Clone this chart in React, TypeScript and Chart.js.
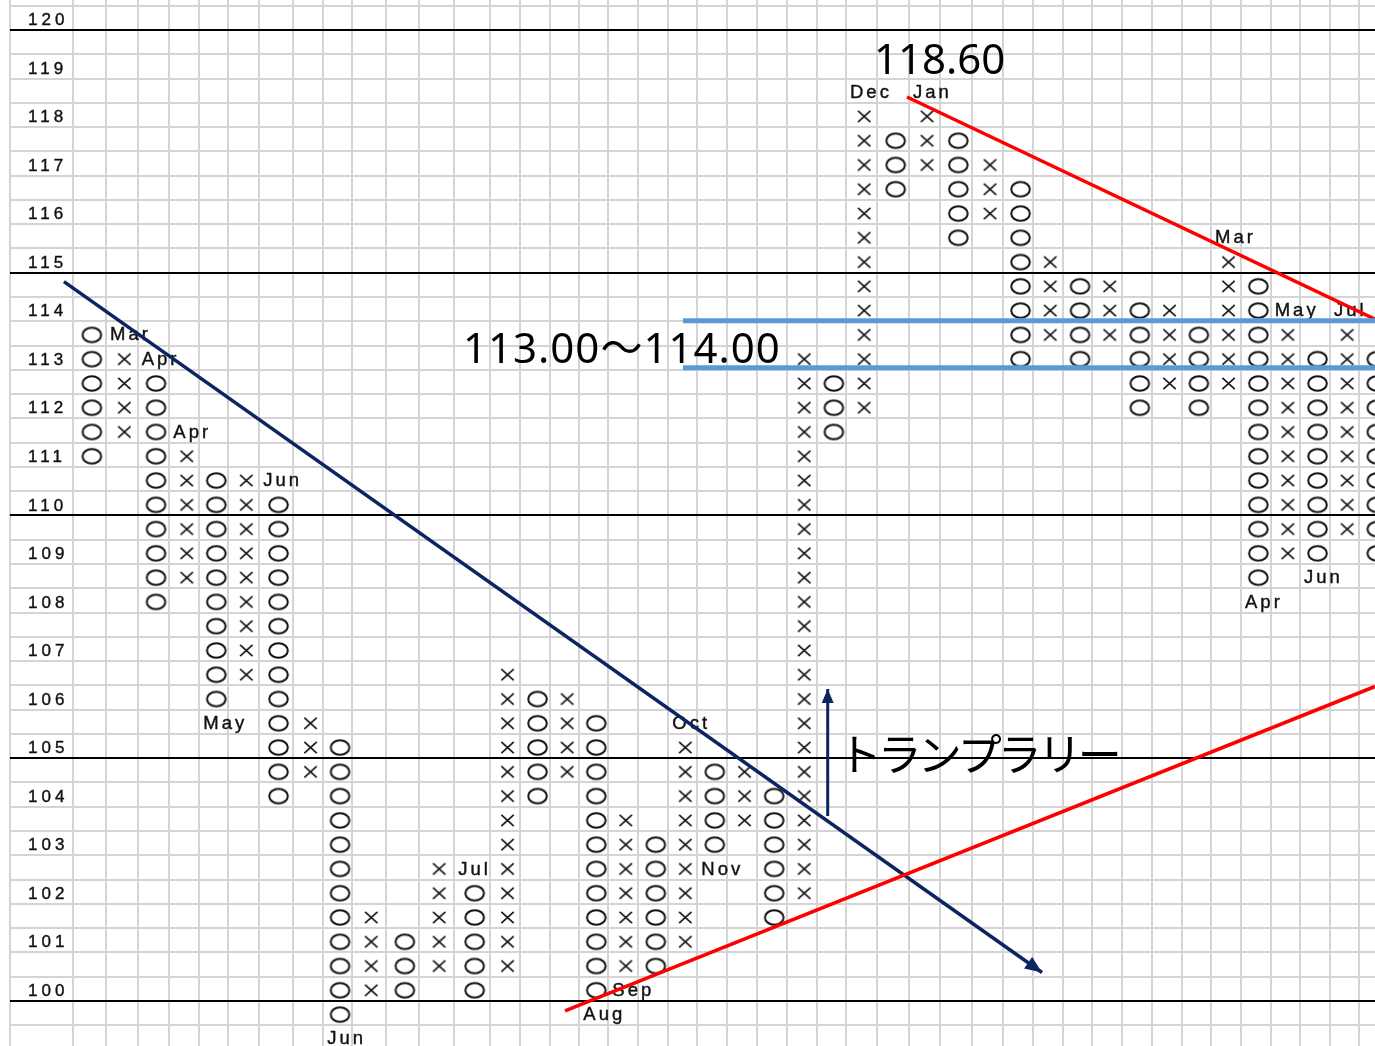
import React, { useEffect, useRef } from 'react';
import { Chart, registerables, LinearScale } from 'chart.js';

// ---------------- data ----------------
const COLUMN_KIND = ['O','X','O','X','O','X','O','X','O','X','O','X','O','X','O','X','O','X','O','X','O','X','O','X','O','X','O','X','O','X','O','X','O','X','O','X','O','X','O','X','O','X','O'];
const COLUMN_LOW = [111,111.5,108,108.5,106,106.5,104,104.5,99.5,100,100,100.5,100,100.5,104,104.5,100,100.5,100.5,101,103,103.5,101.5,102,111.5,112,116.5,117,115.5,116,113,113.5,113,113.5,112,112.5,112,112.5,108.5,109,109,109.5,109];
const COLUMN_HIGH = [113.5,113,112.5,111,110.5,110.5,110,105.5,105,101.5,101,102.5,102,106.5,106,106,105.5,103.5,103,105,104.5,104.5,104,113,112.5,118,117.5,118,117.5,117,116.5,115,114.5,114.5,114,114,113.5,115,114.5,113.5,113,113.5,113];

const MONTH_TEXT = ['Mar','Apr','Apr','Jun','May','Jun','Jul','Aug','Sep','Oct','Nov','Dec','Jan','Mar','May','Jul','Apr','Jun'];
const MONTH_COLUMN = [1,2,3,6,4,8,12,16,17,19,20,25,27,37,39,41,38,40];
const MONTH_PRICE = [113.5,113,111.5,110.5,105.5,99,102.5,99.5,100,105.5,102.5,118.5,118.5,115.5,114,114,108,108.5];

const PRICE_LABELS = [120,119,118,117,116,115,114,113,112,111,110,109,108,107,106,105,104,103,102,101,100];

const DOWN_TREND_X = [-0.14, 31.31];
const DOWN_TREND_Y = [114.565, 100.336];
const RALLY_ARROW_X = [24.375, 24.375];
const RALLY_ARROW_Y = [103.56, 106.175];
const RED_UPPER_X = [26.937, 42.523];
const RED_UPPER_Y = [118.369, 113.794];
const RED_LOWER_X = [15.512, 42.523];
const RED_LOWER_Y = [99.543, 106.227];
const BAND_X = [19.507, 42.523];
const BAND_TOP = 113.76;
const BAND_BOTTOM = 112.79;

const NOTE_TEXT = ['118.60', '113.00〜114.00', 'トランプラリー'];
const NOTE_X = [25.895, 12.244, 24.72];
const NOTE_Y = [118.843, 112.89, 104.486];

// ---------------- layout (column widths of the sheet, relative) ----------------
const COLUMN_WIDTHS = [62.7,33.3,31.7,31.6,30,29,31,33.4,30.6,28.4,34,33.3,35.3,35.7,30,30,29.3,29,30,30,29,30,29.4,30,30,29.3,31.3,31.7,31,31.7,31.6,29.4,30,29.6,30,30,29.4,29.3,30,29.7,29.3,30,29.3,30];

class ColumnScale extends LinearScale {
  static id = 'column';
  static defaults = LinearScale.defaults;
  edgeAt(v: number): number {
    let acc = 0;
    let start = -1;
    for (let i = 0; i < COLUMN_WIDTHS.length; i++) {
      const w = COLUMN_WIDTHS[i];
      if (v <= start + 1 || i === COLUMN_WIDTHS.length - 1) return acc + (v - start) * w;
      acc += w;
      start += 1;
    }
    return acc;
  }
  getPixelForValue(value: number) {
    const a = this.edgeAt((this as any).min);
    const b = this.edgeAt((this as any).max);
    return (this as any).left + ((this.edgeAt(value) - a) / (b - a)) * (this as any).width;
  }
  getValueForPixel(pixel: number) {
    const a = this.edgeAt((this as any).min);
    const b = this.edgeAt((this as any).max);
    const target = a + ((pixel - (this as any).left) / (this as any).width) * (b - a);
    let lo = (this as any).min - 5;
    let hi = (this as any).max + 5;
    for (let k = 0; k < 60; k++) {
      const mid = (lo + hi) / 2;
      if (this.edgeAt(mid) < target) lo = mid; else hi = mid;
    }
    return (lo + hi) / 2;
  }
}

Chart.register(...registerables, ColumnScale as any);

function makeO(): HTMLCanvasElement {
  const c = document.createElement('canvas');
  c.width = 30; c.height = 24;
  const g = c.getContext('2d')!;
  g.strokeStyle = '#111';
  g.lineWidth = 2;
  g.beginPath();
  g.ellipse(15 + 2.5, 12 + 1.5, 9.3, 7.2, 0, 0, Math.PI * 2);
  g.stroke();
  return c;
}

function makeX(): HTMLCanvasElement {
  const c = document.createElement('canvas');
  c.width = 26; c.height = 24;
  const g = c.getContext('2d')!;
  g.strokeStyle = '#111';
  g.lineWidth = 1.6;
  const cx = 13 + 2.5, cy = 12 + 1.5, hx = 6.2, hy = 5.6;
  g.beginPath();
  g.moveTo(cx - hx, cy - hy); g.lineTo(cx + hx, cy + hy);
  g.moveTo(cx + hx, cy - hy); g.lineTo(cx - hx, cy + hy);
  g.stroke();
  return c;
}

function boxes(kind: string) {
  const pts: { x: number; y: number }[] = [];
  COLUMN_KIND.forEach((k, c) => {
    if (k !== kind) return;
    for (let v = COLUMN_LOW[c]; v <= COLUMN_HIGH[c] + 1e-9; v += 0.5) pts.push({ x: c + 0.5, y: v });
  });
  return pts;
}

function pairs(xs: number[], ys: number[]) {
  return xs.map((x, i) => ({ x, y: ys[i] }));
}

function boldText(ctx: any, t: string, px: number, py: number) {
  ctx.fillText(t, px, py);
  ctx.strokeText(t, px, py);
}

const textPlugin = {
  id: 'pfText',
  beforeDatasetsDraw(chart: any) {
    const { ctx, scales } = chart;
    const x = scales.x, y = scales.y;
    ctx.save();
    ctx.fillStyle = '#111';
    ctx.strokeStyle = '#111';
    ctx.lineWidth = 0.4;
    ctx.textBaseline = 'middle';
    ctx.textAlign = 'left';
    ctx.font = '17px "Liberation Sans", Arial, sans-serif';
    ctx.letterSpacing = '4px';
    const lx = x.getPixelForValue(-1) + 18;
    PRICE_LABELS.forEach((v) => boldText(ctx, String(v), lx, y.getPixelForValue(v) + 2.5));
    ctx.font = '18.5px "Liberation Sans", Arial, sans-serif';
    ctx.letterSpacing = '3px';
    MONTH_TEXT.forEach((t, i) => {
      boldText(ctx, t, x.getPixelForValue(MONTH_COLUMN[i]) + 4, y.getPixelForValue(MONTH_PRICE[i]) + 2);
    });
    ctx.letterSpacing = '0px';
    ctx.restore();
  },
  afterDatasetsDraw(chart: any) {
    const { ctx, scales } = chart;
    const x = scales.x, y = scales.y;
    ctx.save();
    chart.data.datasets.forEach((ds: any, i: number) => {
      if (!ds.arrowHead) return;
      const pts = chart.getDatasetMeta(i).data;
      const p0 = pts[pts.length - 2], p1 = pts[pts.length - 1];
      const ang = Math.atan2(p1.y - p0.y, p1.x - p0.x);
      const L = ds.arrowLength || 17, W = ds.arrowHalfWidth || 7;
      const bx = p1.x - L * Math.cos(ang), by = p1.y - L * Math.sin(ang);
      ctx.fillStyle = ds.borderColor;
      ctx.beginPath();
      ctx.moveTo(p1.x, p1.y);
      ctx.lineTo(bx + W * Math.sin(ang), by - W * Math.cos(ang));
      ctx.lineTo(bx - W * Math.sin(ang), by + W * Math.cos(ang));
      ctx.closePath();
      ctx.fill();
    });
    ctx.fillStyle = '#000';
    ctx.textAlign = 'left';
    ctx.textBaseline = 'alphabetic';
    NOTE_TEXT.forEach((t, i) => {
      if (i === 2) {
        ctx.font = '44px "Noto Sans CJK JP", sans-serif';
        ctx.letterSpacing = '-4px';
      } else if (i === 1) {
        ctx.font = '42px "Noto Sans", "Noto Sans CJK JP", sans-serif';
        ctx.letterSpacing = '1px';
      } else {
        ctx.font = '42px "Noto Sans", "Noto Sans CJK JP", sans-serif';
        ctx.letterSpacing = '0px';
      }
      ctx.fillText(t, x.getPixelForValue(NOTE_X[i]), y.getPixelForValue(NOTE_Y[i]));
    });
    ctx.letterSpacing = '0px';
    ctx.restore();
  },
};

export default function App() {
  const ref = useRef<HTMLCanvasElement>(null);
  useEffect(() => {
    const canvas = ref.current;
    if (!canvas) return;
    const oImg = makeO();
    const xImg = makeX();
    const lineDs = (data: any[], color: string, width: number, extra: any = {}) => ({
      type: 'scatter',
      data,
      showLine: true,
      borderColor: color,
      backgroundColor: color,
      borderWidth: width,
      pointRadius: 0,
      fill: false,
      order: 0,
      ...extra,
    });
    const chart = new Chart(canvas, {
      type: 'scatter',
      data: {
        datasets: [
          lineDs(pairs(BAND_X, [BAND_TOP, BAND_TOP]), '#5b9bd5', 5),
          lineDs(pairs(BAND_X, [BAND_BOTTOM, BAND_BOTTOM]), '#5b9bd5', 5),
          lineDs(pairs(RED_UPPER_X, RED_UPPER_Y), '#ff0000', 3.5),
          lineDs(pairs(RED_LOWER_X, RED_LOWER_Y), '#ff0000', 3.5),
          lineDs(pairs(DOWN_TREND_X, DOWN_TREND_Y), '#0c2461', 3.5, { arrowHead: true }),
          lineDs(pairs(RALLY_ARROW_X, RALLY_ARROW_Y), '#0c2461', 3, { arrowHead: true, arrowLength: 14, arrowHalfWidth: 6 }),
          {
            label: 'X',
            data: boxes('X'),
            pointStyle: xImg,
            pointRadius: 1,
            pointBorderWidth: 0,
            showLine: false,
            order: 1,
          },
          {
            label: 'O',
            data: boxes('O'),
            pointStyle: oImg,
            pointRadius: 1,
            pointBorderWidth: 0,
            showLine: false,
            order: 1,
          },
        ] as any,
      },
      options: {
        animation: false,
        responsive: false,
        events: [],
        layout: { autoPadding: false, padding: { left: 10, top: 0, right: 0, bottom: 0 } },
        plugins: { legend: { display: false }, tooltip: { enabled: false } },
        scales: {
          x: {
            type: 'column' as any,
            min: -1,
            max: 42.523,
            border: { display: false },
            ticks: { display: false },
            grid: { drawTicks: false, color: '#d4d4d4', lineWidth: 2 },
            afterBuildTicks: (scale: any) => {
              const t = [];
              for (let v = -1; v <= 42; v++) t.push({ value: v });
              scale.ticks = t;
            },
          },
          y: {
            type: 'linear',
            min: 98.822,
            max: 120.367,
            border: { display: false },
            ticks: { display: false },
            grid: {
              drawTicks: false,
              lineWidth: 2,
              color: (c: any) => {
                const v = c.tick ? c.tick.value : 0;
                const r = (((v + 0.25) % 5) + 5) % 5;
                return r < 1e-6 || r > 5 - 1e-6 ? '#000000' : '#d4d4d4';
              },
            },
            afterBuildTicks: (scale: any) => {
              const t = [];
              for (let v = 98.75; v <= 120.26; v += 0.5) t.push({ value: v });
              scale.ticks = t;
            },
          },
        },
      } as any,
      plugins: [textPlugin],
    });
    let alive = true;
    if ((document as any).fonts && (document as any).fonts.load) {
      Promise.all([
        (document as any).fonts.load('42px "Noto Sans"'),
        (document as any).fonts.load('44px "Noto Sans CJK JP"'),
        (document as any).fonts.load('18px "Liberation Sans"'),
      ]).then(() => { if (alive) chart.update(); }).catch(() => {});
    }
    return () => { alive = false; chart.destroy(); };
  }, []);
  return (
    <div style={{ position: 'absolute', left: 0, top: 0, width: 1375, height: 1046, background: '#fff', overflow: 'hidden' }}>
      <canvas ref={ref} width={1375} height={1046} style={{ display: 'block', width: 1375, height: 1046 }} />
    </div>
  );
}
